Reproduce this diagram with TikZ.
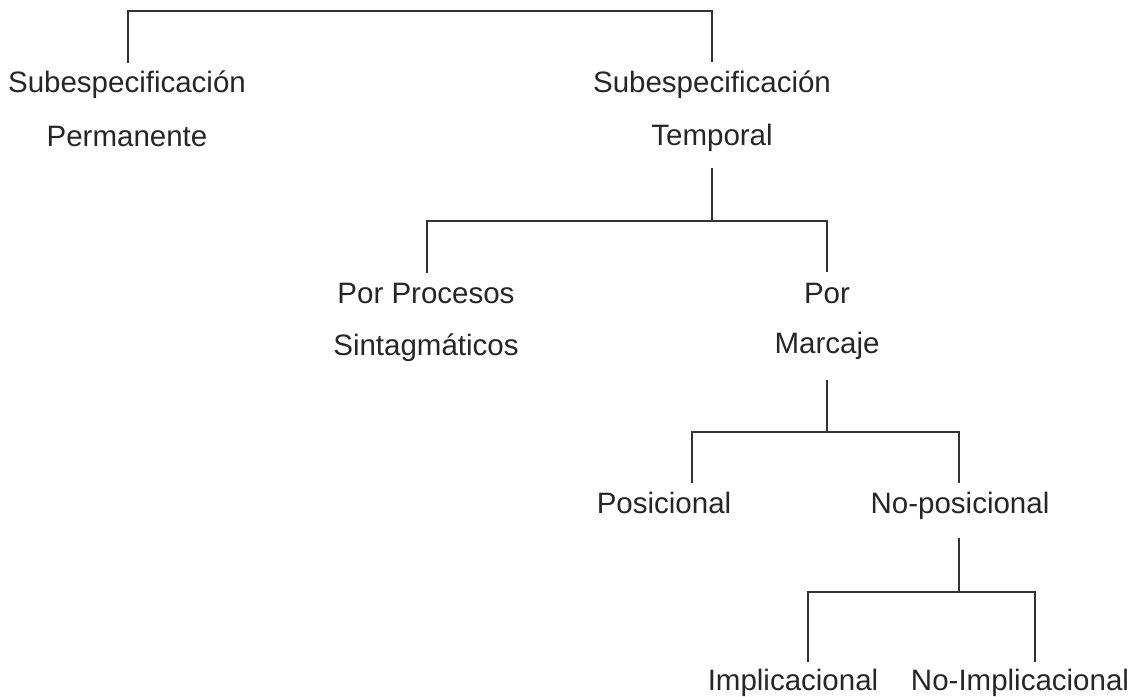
\documentclass[tikz,border=0pt]{standalone}
\usepackage{fontspec}
\setmainfont{Liberation Sans}
\begin{document}
\begin{tikzpicture}[x=1pt,y=-1pt,
  lbl/.style={inner sep=0pt, anchor=base, font=\fontsize{29.5}{35}\selectfont, text=black!85},
  link/.style={line width=1.4pt, draw=black!80}]
\useasboundingbox (0,0) rectangle (1145,696);

% labels
\node[lbl] (sp1)  at (127,92)  {Subespecificación};
\node[lbl] (sp2)  at (127,146) {Permanente};
\node[lbl] (st1)  at (712,92)  {Subespecificación};
\node[lbl] (st2)  at (712,145) {Temporal};
\node[lbl] (pp1)  at (426,303) {Por Procesos};
\node[lbl] (pp2)  at (426,355) {Sintagmáticos};
\node[lbl] (pm1)  at (827,303) {Por};
\node[lbl] (pm2)  at (827,353) {Marcaje};
\node[lbl] (pos)  at (664,513) {Posicional};
\node[lbl] (npos) at (960,513) {No-posicional};
\node[lbl] (imp)  at (793,690) {Implicacional};
\node[lbl] (nimp) at (1020,690) {No-Implicacional};

% level 1 bracket
\coordinate (a1) at (128,11);   \coordinate (a1e) at (128,63);
\coordinate (a2) at (712,11);   \coordinate (a2e) at (712,62);
\draw[link] (a1e) -- (a1) -- (a2) -- (a2e);

% level 2 bracket under "Temporal"
\coordinate (b0) at (712,168);  \coordinate (bm) at (712,221);
\coordinate (b1) at (427,221);  \coordinate (b1e) at (427,273);
\coordinate (b2) at (827,221);  \coordinate (b2e) at (827,272);
\draw[link] (b0) -- (bm);
\draw[link] (b1e) -- (b1) -- (b2) -- (b2e);

% level 3 bracket under "Marcaje"
\coordinate (c0) at (827,380);  \coordinate (cm) at (827,432);
\coordinate (c1) at (692,432);  \coordinate (c1e) at (692,483);
\coordinate (c2) at (959,432);  \coordinate (c2e) at (959,483);
\draw[link] (c0) -- (cm);
\draw[link] (c1e) -- (c1) -- (c2) -- (c2e);

% level 4 bracket under "No-posicional"
\coordinate (d0) at (959,538);  \coordinate (dm) at (959,592);
\coordinate (d1) at (808,592);  \coordinate (d1e) at (808,662);
\coordinate (d2) at (1035,592); \coordinate (d2e) at (1035,662);
\draw[link] (d0) -- (dm);
\draw[link] (d1e) -- (d1) -- (d2) -- (d2e);
\end{tikzpicture}
\end{document}
